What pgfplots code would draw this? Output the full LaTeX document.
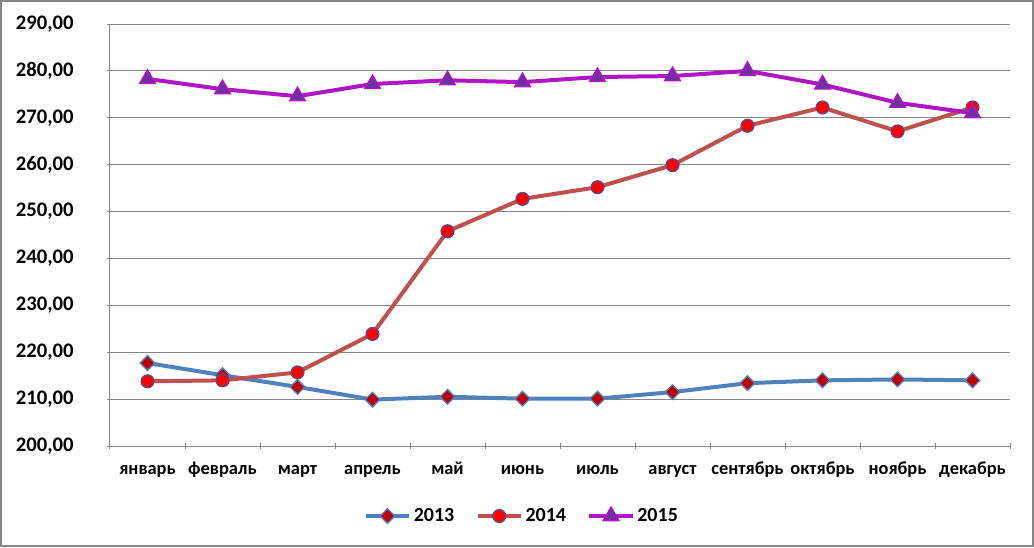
\documentclass[border=0pt]{standalone}
\usepackage{pgfplots}
\pgfplotsset{compat=1.18}
\usepackage{fontspec}
\setmainfont{Carlito}
\definecolor{c13}{HTML}{4F81BD}
\definecolor{c13m}{HTML}{C00000}
\definecolor{c14}{HTML}{C0504D}
\definecolor{c14m}{HTML}{FF0000}
\definecolor{c14e}{HTML}{5B4A8A}
\definecolor{c15}{HTML}{B015C5}
\definecolor{c15m}{HTML}{7030A0}
\definecolor{gridc}{HTML}{868686}
\begin{document}
\begin{tikzpicture}
\useasboundingbox (-82.5pt,-75.75pt) rectangle (693pt,334.5pt);
\draw[gridc, line width=1.8pt] (-81.6pt,-74.85pt) rectangle (692.1pt,333.6pt);
\begin{axis}[
  at={(0pt,0pt)}, anchor=south west, scale only axis,
  width=675pt, height=316.5pt,
  xmin=-0.5, xmax=11.5, ymin=200, ymax=290,
  ytick={200,210,...,290},
  xtick={0,...,11},
  xticklabels={январь,февраль,март,апрель,май,июнь,июль,август,сентябрь,октябрь,ноябрь,декабрь},
  minor xtick={-0.5,0.5,...,11.5},
  major x tick style={draw=none},
  minor x tick style={gridc, line width=0.75pt},
  major y tick style={gridc, line width=0.75pt},
  major tick length=4.5pt, minor tick length=4.5pt,
  tick align=outside,
  axis lines=left,
  axis line style={-, gridc, line width=0.75pt},
  ymajorgrids, major grid style={gridc, line width=0.75pt},
  yticklabel style={font=\bfseries\fontsize{15.5}{18}\selectfont},
  xticklabel style={font=\bfseries\fontsize{13.8}{17}\selectfont},
  /pgf/number format/fixed,
  /pgf/number format/fixed zerofill,
  /pgf/number format/precision=2,
  /pgf/number format/use comma,
  /pgf/number format/assume math mode=true,
  xticklabel style={anchor=base, yshift=-19pt},
  yticklabel style={xshift=-21.5pt},
  legend style={at={(0.458,-0.166)}, anchor=center, draw=none, fill=none,
    legend columns=3, font=\bfseries\fontsize{15}{18}\selectfont,
    /tikz/every even column/.append style={column sep=14pt}},
  legend image code/.code={\draw[mark repeat=2,mark phase=2] plot coordinates {(0cm,0cm)(0.57cm,0cm)(1.14cm,0cm)};},
]
\addplot[c13, line width=3pt, mark=diamond*, mark size=5.5pt,
  mark options={solid, fill=c13m, draw=c13, line width=1pt, xscale=1.33}]
  coordinates {(0,217.7)(1,215.1)(2,212.6)(3,209.9)(4,210.5)(5,210.1)(6,210.1)(7,211.5)(8,213.4)(9,214.0)(10,214.2)(11,214.0)};
\addlegendentry{2013}
\addplot[c14, line width=3pt, mark=*, mark size=4.8pt,
  mark options={solid, fill=c14m, draw=c14e, line width=1pt}]
  coordinates {(0,213.8)(1,214.0)(2,215.7)(3,223.9)(4,245.8)(5,252.7)(6,255.2)(7,259.9)(8,268.3)(9,272.2)(10,267.1)(11,272.2)};
\addlegendentry{2014}
\addplot[c15, line width=3pt, mark=triangle*, mark size=6.8pt,
  mark options={solid, fill=c15m, draw=c15, line width=1pt}]
  coordinates {(0,278.3)(1,276.1)(2,274.6)(3,277.2)(4,278.0)(5,277.6)(6,278.7)(7,278.9)(8,280.0)(9,277.1)(10,273.2)(11,271.0)};
\addlegendentry{2015}
\end{axis}
\end{tikzpicture}
\end{document}
